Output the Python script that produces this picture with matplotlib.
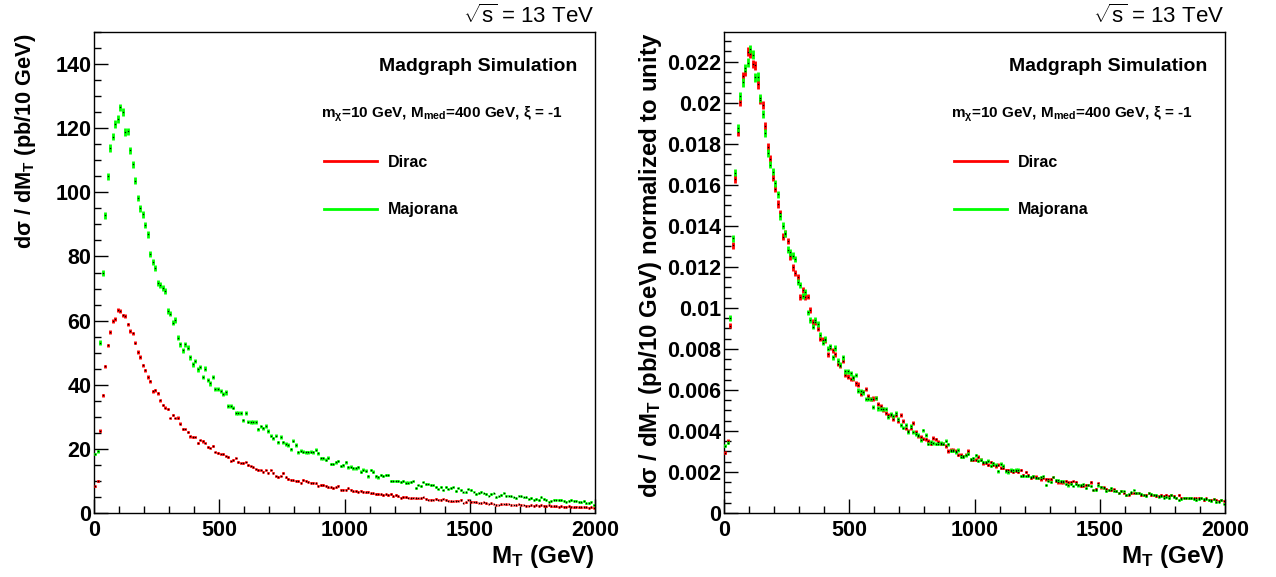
import numpy as np
import matplotlib
matplotlib.use('Agg')
import matplotlib.pyplot as plt
from matplotlib.lines import Line2D
from matplotlib.ticker import MultipleLocator, FuncFormatter

plt.rcParams['font.family'] = ['Liberation Sans', 'DejaVu Sans']
plt.rcParams['font.weight'] = 'bold'
plt.rcParams['mathtext.fontset'] = 'custom'
plt.rcParams['mathtext.rm'] = 'Liberation Sans:bold'
plt.rcParams['mathtext.it'] = 'Liberation Sans:bold'
plt.rcParams['mathtext.bf'] = 'Liberation Sans:bold'
plt.rcParams['mathtext.sf'] = 'Liberation Sans:weight=normal'

# M_T histogram, 10 GeV bins from 0 to 2000 GeV (pb / 10 GeV)
bin_edges = np.arange(0, 2001, 10)

dirac = np.array([
    8.3, 9.9, 25.7, 36.7, 45.8, 52.3, 56.4, 59.9, 60.6, 63.3,
    63.0, 61.6, 61.4, 58.8, 56.7, 56.0, 53.1, 50.2, 48.6, 46.0,
    44.5, 42.4, 41.1, 37.9, 38.3, 37.3, 35.2, 33.7, 32.9, 32.4,
    29.6, 30.6, 29.6, 29.7, 27.9, 26.2, 26.2, 25.3, 23.9, 23.8,
    23.7, 21.8, 22.7, 22.3, 21.8, 20.5, 20.2, 20.9, 19.0, 18.7,
    18.4, 18.5, 17.8, 17.6, 16.3, 16.6, 17.0, 16.0, 15.6, 15.7,
    15.8, 15.0, 14.7, 14.2, 13.7, 13.4, 13.4, 12.9, 13.4, 12.6,
    13.4, 12.6, 11.6, 11.3, 11.6, 12.4, 11.1, 10.6, 10.4, 10.2,
    10.1, 9.9, 9.5, 10.3, 10.1, 9.8, 9.5, 9.5, 9.2, 8.5,
    8.7, 8.7, 8.5, 8.0, 8.0, 7.8, 8.0, 8.5, 7.3, 7.3,
    7.3, 7.7, 7.3, 6.8, 6.9, 6.6, 7.0, 6.6, 6.4, 6.6,
    6.2, 6.2, 5.9, 5.9, 5.8, 5.6, 5.8, 5.6, 5.9, 5.2,
    5.6, 5.2, 4.8, 5.0, 5.0, 4.8, 4.6, 4.8, 4.6, 4.6,
    4.6, 4.9, 4.4, 4.2, 4.2, 4.2, 4.4, 4.2, 4.2, 4.4,
    4.2, 3.8, 3.7, 3.7, 3.8, 3.8, 4.2, 3.1, 3.3, 4.1,
    3.5, 3.5, 3.3, 3.1, 3.1, 3.3, 3.0, 2.8, 3.0, 2.8,
    2.5, 2.5, 2.7, 2.8, 2.7, 2.8, 2.5, 2.5, 2.5, 2.7,
    2.5, 2.5, 2.3, 2.3, 2.5, 2.3, 2.5, 2.3, 2.5, 2.3,
    2.1, 2.5, 2.1, 2.1, 2.1, 2.0, 2.1, 2.0, 2.0, 2.1,
    2.0, 1.8, 2.0, 1.8, 1.8, 1.9, 1.8, 1.7, 1.8, 1.7,
])

majorana = np.array([
    18.4, 19.2, 53.1, 74.9, 92.8, 105.0, 113.8, 117.4, 121.3, 122.8,
    126.5, 125.0, 118.8, 119.0, 113.1, 108.7, 103.6, 98.2, 95.0, 93.1,
    89.9, 86.9, 80.9, 78.3, 76.3, 71.8, 71.1, 70.2, 69.3, 63.0,
    62.2, 59.3, 60.2, 54.7, 52.6, 50.8, 52.6, 51.6, 48.6, 46.4,
    47.4, 44.8, 45.5, 42.4, 45.0, 41.5, 40.4, 42.4, 38.6, 38.6,
    38.1, 37.0, 37.6, 33.4, 33.3, 32.9, 31.1, 31.1, 31.1, 28.9,
    31.3, 28.5, 28.4, 28.4, 28.4, 26.1, 27.0, 26.4, 27.2, 25.6,
    24.1, 23.3, 24.1, 22.0, 23.7, 22.0, 21.5, 21.2, 19.9, 22.5,
    21.2, 18.9, 19.4, 19.1, 18.9, 18.9, 19.1, 18.9, 19.7, 18.7,
    17.0, 17.0, 16.6, 17.2, 15.3, 15.3, 15.8, 16.2, 14.7, 14.9,
    15.8, 14.2, 14.5, 13.9, 13.9, 14.2, 12.9, 13.5, 13.2, 11.4,
    13.4, 12.9, 11.4, 11.1, 11.8, 11.6, 11.8, 11.8, 10.1, 10.1,
    10.1, 10.1, 9.8, 10.1, 9.5, 9.5, 9.8, 10.1, 7.7, 8.7,
    8.4, 9.8, 9.0, 8.9, 8.7, 8.6, 8.0, 7.5, 8.0, 7.3,
    8.0, 7.5, 7.7, 8.0, 6.9, 7.7, 7.3, 6.4, 6.4, 7.5,
    7.2, 6.7, 5.9, 6.2, 6.7, 6.1, 5.9, 5.4, 5.9, 6.1,
    4.9, 5.2, 5.6, 6.2, 5.4, 5.4, 5.2, 4.9, 4.6, 5.4,
    5.2, 4.9, 4.9, 4.4, 4.7, 4.2, 4.4, 4.1, 4.9, 4.4,
    4.2, 3.5, 3.8, 4.2, 4.2, 4.1, 4.1, 3.8, 3.5, 3.8,
    4.1, 3.8, 3.8, 3.5, 3.3, 3.7, 3.0, 3.1, 3.5, 2.5,
])

n_events = 500000  # generated events per sample (sets the MC error bars)

centers = 0.5 * (bin_edges[:-1] + bin_edges[1:])

series = [('Dirac', dirac, '#ff0000'), ('Majorana', majorana, '#00ff00')]

fig = plt.figure(figsize=(12.76, 5.77), dpi=100)
ax1 = fig.add_axes([94/1276, 64/577, 501/1276, 481/577])
ax2 = fig.add_axes([724/1276, 64/577, 501/1276, 481/577])


def draw(ax, norm):
    for name, vals, col in series:
        err = np.sqrt(vals * vals.sum() / n_events)
        y = vals
        if norm:
            y = vals / vals.sum()
            err = err / vals.sum()
        ax.errorbar(centers, y, xerr=3.5, yerr=err, fmt='none', ecolor=col,
                    elinewidth=2.0, capsize=0, zorder=3)
        ax.plot(centers, y, ls='none', marker='s', ms=0.9, mfc='k', mec='k',
                mew=0, zorder=4)
    ax.set_xlim(0, 2000)
    ax.xaxis.set_major_locator(MultipleLocator(500))
    ax.xaxis.set_minor_locator(MultipleLocator(100))
    ax.tick_params(which='both', direction='in', top=False, right=False,
                   labelsize=15.5, width=1)
    ax.tick_params(which='major', length=10)
    ax.tick_params(which='minor', length=5)
    ax.tick_params(axis='y', pad=2)
    ax.tick_params(axis='x', pad=5)
    for s in ax.spines.values():
        s.set_linewidth(1.0)
    handles = [Line2D([], [], color=c, lw=2) for _, _, c in series]
    ax.legend(handles, [n for n, _, _ in series], loc='upper left',
              bbox_to_anchor=(0.46, 0.745), frameon=False, fontsize=11.5,
              handlelength=3.3, handletextpad=0.7, labelspacing=2.05,
              borderpad=0, borderaxespad=0)
    ax.text(0.965, 0.928, 'Madgraph Simulation', transform=ax.transAxes,
            ha='right', va='center', fontsize=14)
    ax.text(0.453, 0.8227,
            r'm$_{\chi}$=10 GeV, M$_{\mathrm{med}}$=400 GeV, $\xi$ = -1',
            transform=ax.transAxes, ha='left', va='baseline', fontsize=11)


draw(ax1, False)
ax1.set_ylim(0, 150)
ax1.yaxis.set_major_locator(MultipleLocator(20))
ax1.yaxis.set_minor_locator(MultipleLocator(5))

draw(ax2, True)
ax2.set_ylim(0, 0.02345)
ax2.yaxis.set_major_locator(MultipleLocator(0.002))
ax2.yaxis.set_minor_locator(MultipleLocator(0.0005))
ax2.yaxis.set_major_formatter(FuncFormatter(lambda v, p: f'{round(v, 4):g}'))

for ax, x0 in [(ax1, 94), (ax2, 724)]:
    fig.text((x0 + 500)/1276, 1 - 22.7/577, r'$\sqrt{\mathsf{s}}$ = 13 TeV',
             ha='right', va='baseline', fontsize=16, fontweight='normal')
    fig.text((x0 + 501)/1276, 1 - 557/577, r'M$_{T}$ (GeV)',
             ha='right', va='center', fontsize=17.5)

fig.text(26/1276, 1 - 33/577, r'd$\sigma$ / dM$_{T}$ (pb/10 GeV)',
         rotation=90, ha='center', va='top', fontsize=15.7)
fig.text(651/1276, 1 - 33/577,
         r'd$\sigma$ / dM$_{T}$ (pb/10 GeV) normalized to unity',
         rotation=90, ha='center', va='top', fontsize=17.3)

fig.savefig('out.png', dpi=100)
